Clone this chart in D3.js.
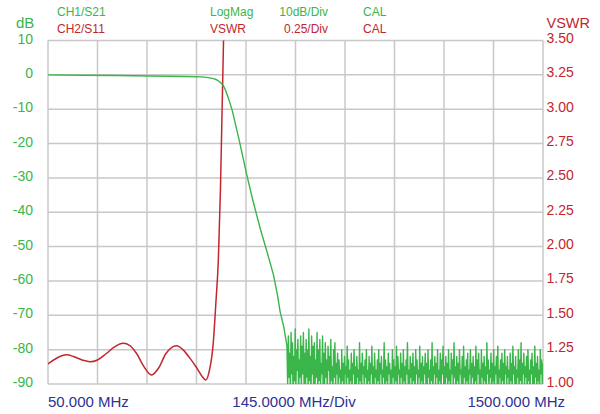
<!DOCTYPE html>
<html>
<head>
<meta charset="utf-8">
<script src="https://cdn.jsdelivr.net/npm/d3@7"></script>
<style>
  body { margin: 0; background: #fff; }
  text { font-family: "Liberation Sans", Arial, sans-serif; }
</style>
</head>
<body>
<div id="chart"></div>
<script>
// ticks
var dbTicks = [10, 0, -10, -20, -30, -40, -50, -60, -70, -80, -90];
var vswrTicks = ["3.50", "3.25", "3.00", "2.75", "2.50", "2.25", "2.00", "1.75", "1.50", "1.25", "1.00"];
var freqTicks = [50, 195, 340, 485, 630, 775, 920, 1065, 1210, 1355, 1500];

// CH1 S21 (LogMag) - smooth part
var s21Freq = [50, 150, 250, 350, 450, 500, 520, 535, 545, 555, 563, 570, 580, 590, 610, 632, 650, 671, 690, 710, 722, 730, 736, 740, 745];
var s21Db   = [0, -0.1, -0.2, -0.35, -0.5, -0.6, -0.8, -1.1, -1.5, -2.2, -3.0, -4.5, -7.2, -10.5, -19, -29, -36.5, -44.5, -51, -58, -64, -69, -71.5, -73, -76];

// S21 noise floor, sweep from 750 to 1500 MHz
var noiseStart = 750, noiseStop = 1500;
var s21Noise = [
  -79,-90,-76,-88,-81,-93,-75,-87,-78,-95,-82,-89,-74,-91,-80,-86,-77,-94,-83,-88,-76,-92,-79,-87,-75,
  -90,-81,-95,-77,-88,-80,-92,-74,-89,-82,-96,-76,-87,-79,-93,-78,-90,-83,-88,-75,-94,-80,-89,-77,-91,
  -84,-87,-76,-95,-81,-90,-78,-88,-83,-93,-79,-86,-82,-92,-77,-89,-85,-96,-80,-88,-78,-91,-84,-87,-81,
  -94,-83,-88,-86,-92,-80,-89,-84,-95,-82,-87,-85,-91,-79,-88,-83,-96,-86,-89,-81,-93,-84,-87,-80,-90,
  -85,-94,-82,-88,-86,-92,-78,-89,-84,-95,-81,-87,-85,-91,-83,-88,-80,-96,-86,-89,-82,-93,-84,-87,-79,
  -90,-85,-94,-81,-88,-86,-92,-83,-89,-80,-95,-84,-87,-82,-91,-86,-88,-78,-96,-83,-89,-85,-93,-81,-87,
  -84,-90,-86,-94,-80,-88,-83,-92,-85,-89,-79,-95,-82,-87,-86,-91,-81,-88,-84,-96,-80,-89,-85,-93,-83,
  -87,-78,-90,-86,-94,-82,-88,-84,-92,-81,-89,-85,-95,-80,-87,-83,-91,-86,-88,-79,-96,-84,-89,-82,-93,
  -85,-87,-81,-90,-84,-94,-80,-88,-86,-92,-83,-89,-78,-95,-85,-87,-82,-91,-84,-88,-80,-96,-86,-89,-81,
  -93,-83,-87,-79,-90,-85,-94,-82,-88,-84,-92,-80,-89,-86,-95,-81,-87,-83,-91,-78,-88,-85,-96,-82,-89,
  -84,-93,-80,-87,-86,-90,-82,-94,-79,-88,-85,-92,-83,-89,-81,-95,-86,-87,-80,-91,-84,-88,-82,-96,-85,
  -89,-79,-93,-83,-87,-81,-90,-86,-94,-80,-88,-84,-92,-82,-89,-85,-95,-78,-87,-83,-91,-86,-88,-81,-96,
  -84,-89,-80,-93,-85,-87,-82,-90,-79,-94,-86,-88,-83,-92,-81,-89,-84,-95,-80,-87,-85,-91,-82,-88,-86,
  -96,-81,-89,-84,-93,-79,-87,-85,-90,-82,-94,-86,-88,-80,-92,-83,-89,-78,-95,-84,-87,-81,-91,-85,-88,
  -82,-96,-80,-89,-86,-93,-83,-87,-81,-90,-85,-94,-79,-88,-84,-92,-82,-89,-86,-95,-80,-87,-83,-91,-84
];

// CH2 S11 (VSWR)
var s11Freq = [50, 70, 90, 105, 125, 150, 173, 195, 220, 245, 270, 290, 310, 330, 353, 375, 395, 415, 427, 445, 465, 485, 500, 512, 522, 534, 542, 549, 555, 560, 565, 570];
var s11Vswr = [1.146, 1.18, 1.205, 1.212, 1.2, 1.175, 1.162, 1.175, 1.22, 1.27, 1.296, 1.28, 1.22, 1.13, 1.066, 1.12, 1.22, 1.27, 1.279, 1.25, 1.19, 1.12, 1.06, 1.029, 1.09, 1.296, 1.6, 1.903, 2.4, 3.0, 3.6, 4.3];

var green = "#39b54a", red = "#c1272d", navy = "#2e3192", gridCol = "#c8c8c8";

var width = 600, height = 414;
var plot = {left: 48, right: 543, top: 40.5, bottom: 384};

var svg = d3.select("#chart")
  .append("svg")
    .attr("width", width)
    .attr("height", height);

var x = d3.scaleLinear().domain([50, 1500]).range([plot.left, plot.right]);
var y = d3.scaleLinear().domain([-90, 10]).range([plot.bottom, plot.top]);
var y2 = d3.scaleLinear().domain([1, 3.5]).range([plot.bottom, plot.top]);

// grid
svg.append("g")
  .selectAll("line")
  .data(freqTicks)
  .enter()
  .append("line")
    .attr("x1", function(d) { return x(d); })
    .attr("x2", function(d) { return x(d); })
    .attr("y1", plot.top)
    .attr("y2", plot.bottom)
    .attr("stroke", gridCol)
    .attr("stroke-width", 1.5);
svg.append("g")
  .selectAll("line")
  .data(dbTicks)
  .enter()
  .append("line")
    .attr("x1", plot.left)
    .attr("x2", plot.right)
    .attr("y1", function(d) { return y(d); })
    .attr("y2", function(d) { return y(d); })
    .attr("stroke", gridCol)
    .attr("stroke-width", 1.5);

// left axis labels
svg.append("g")
  .selectAll("text")
  .data(dbTicks)
  .enter()
  .append("text")
    .attr("x", 33)
    .attr("y", function(d) { return y(d) - 2; })
    .attr("dy", "0.36em")
    .attr("text-anchor", "end")
    .attr("fill", green)
    .style("font-size", "14px")
    .text(function(d) { return d; });

// right axis labels
svg.append("g")
  .selectAll("text")
  .data(vswrTicks)
  .enter()
  .append("text")
    .attr("x", 546.5)
    .attr("y", function(d) { return y2(+d) - 2.5; })
    .attr("dy", "0.36em")
    .attr("fill", red)
    .style("font-size", "14px")
    .text(function(d) { return d; });

svg.append("text").attr("x", 16).attr("y", 28).attr("fill", green)
  .style("font-size", "15px").text("dB");
svg.append("text").attr("x", 546.5).attr("y", 27.5).attr("fill", red)
  .style("font-size", "14.5px").text("VSWR");

// header
var hdr = [
  {t: "CH1/S21", x: 57, y: 16, c: green, a: "start"},
  {t: "CH2/S11", x: 57, y: 32.5, c: red, a: "start"},
  {t: "LogMag", x: 210, y: 16, c: green, a: "start"},
  {t: "VSWR", x: 210, y: 32.5, c: red, a: "start"},
  {t: "10dB/Div", x: 328, y: 16, c: green, a: "end"},
  {t: "0.25/Div", x: 328, y: 32.5, c: red, a: "end"},
  {t: "CAL", x: 363, y: 16, c: green, a: "start"},
  {t: "CAL", x: 363, y: 32.5, c: red, a: "start"}
];
svg.append("g")
  .selectAll("text")
  .data(hdr)
  .enter()
  .append("text")
    .attr("x", function(d) { return d.x; })
    .attr("y", function(d) { return d.y; })
    .attr("text-anchor", function(d) { return d.a; })
    .attr("fill", function(d) { return d.c; })
    .style("font-size", "12px")
    .text(function(d) { return d.t; });

// footer
var ftr = [
  {t: "50.000 MHz", x: 48, a: "start"},
  {t: "145.0000 MHz/Div", x: 294, a: "middle"},
  {t: "1500.000 MHz", x: 565, a: "end"}
];
svg.append("g")
  .selectAll("text")
  .data(ftr)
  .enter()
  .append("text")
    .attr("x", function(d) { return d.x; })
    .attr("y", 407)
    .attr("text-anchor", function(d) { return d.a; })
    .attr("fill", navy)
    .style("font-size", "15px")
    .text(function(d) { return d.t; });

// clip traces to the graticule
svg.append("clipPath").attr("id", "clip")
  .append("rect")
    .attr("x", plot.left).attr("y", plot.top)
    .attr("width", plot.right - plot.left).attr("height", plot.bottom - plot.top);

var s21 = s21Freq.map(function(f, i) { return [f, s21Db[i]]; });
var step = (noiseStop - noiseStart) / (s21Noise.length - 1);
s21Noise.forEach(function(v, i) { s21.push([noiseStart + i * step, v]); });

var s11 = s11Freq.map(function(f, i) { return [f, s11Vswr[i]]; });

svg.append("path")
  .datum(s11)
  .attr("clip-path", "url(#clip)")
  .attr("fill", "none")
  .attr("stroke", red)
  .attr("stroke-width", 1.5)
  .attr("d", d3.line()
    .x(function(d) { return x(d[0]); })
    .y(function(d) { return y2(d[1]); })
    .curve(d3.curveMonotoneX));

svg.append("path")
  .datum(s21)
  .attr("clip-path", "url(#clip)")
  .attr("fill", "none")
  .attr("stroke", green)
  .attr("stroke-width", 1.4)
  .attr("stroke-linejoin", "round")
  .attr("d", d3.line()
    .x(function(d) { return x(d[0]); })
    .y(function(d) { return y(d[1]); }));
</script>
</body>
</html>
